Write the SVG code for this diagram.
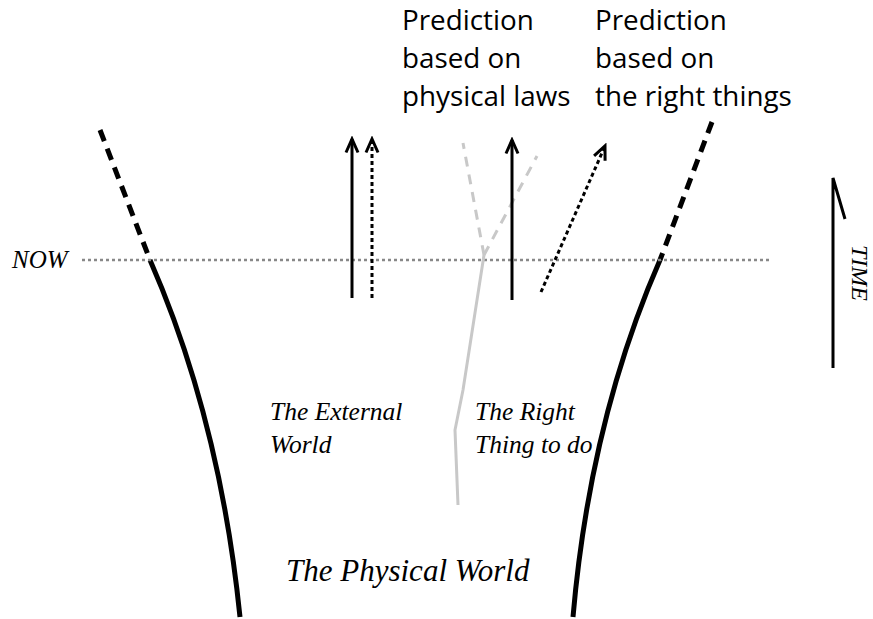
<svg xmlns="http://www.w3.org/2000/svg" width="873" height="619" viewBox="0 0 873 619">
<style>
.sans{font-family:"Open Sans","Liberation Sans",sans-serif;font-size:27.8px;fill:#000}
.ser{font-family:"Liberation Serif","DejaVu Serif",serif;font-style:italic;fill:#000}
.bnd{fill:none;stroke:#000;stroke-width:5}
.arr{fill:none;stroke:#000;stroke-width:3}
</style>
<defs>
<marker id="ah2" viewBox="0 0 18 16" refX="15" refY="8" markerWidth="18" markerHeight="16" markerUnits="userSpaceOnUse" orient="auto">
<path d="M1.5,2 L15,8 L1.5,14" fill="none" stroke="#000" stroke-width="3"/>
</marker>
</defs>
<rect width="873" height="619" fill="#fff"/>
<g id="boundaries">
<path class="bnd" d="M100,130 L150,260" stroke-dasharray="12,8"/>
<path class="bnd" d="M150,260 Q220,420 240,617"/>
<path class="bnd" d="M712,122 L660,260" stroke-dasharray="12,8"/>
<path class="bnd" d="M660,260 Q590,420 573,617"/>
</g>
<g id="now">
<line x1="82" y1="260" x2="770" y2="260" stroke="#888" stroke-width="2.5" stroke-dasharray="3,3"/>
<text class="ser" x="12" y="268" font-size="25">NOW</text>
</g>
<g id="grey-branch">
<path d="M458,505 L455,430 L463,390 L484,255" fill="none" stroke="#c8c8c8" stroke-width="3"/>
<path d="M484,255 L463,143" fill="none" stroke="#c8c8c8" stroke-width="3" stroke-dasharray="10,8"/>
<path d="M484,255 L537,156" fill="none" stroke="#c8c8c8" stroke-width="3" stroke-dasharray="10,8"/>
</g>
<g id="connectors">
<line class="arr" x1="352" y1="298" x2="352" y2="139" marker-end="url(#ah2)"/>
<line class="arr" x1="372" y1="298" x2="372" y2="139" stroke-dasharray="4,3" marker-end="url(#ah2)"/>
<line class="arr" x1="512" y1="300" x2="512" y2="140" marker-end="url(#ah2)"/>
<line class="arr" x1="541" y1="292" x2="605" y2="146" stroke-dasharray="4,3" marker-end="url(#ah2)"/>
</g>
<g id="time">
<path d="M833,368 L833,178 L845,219" fill="none" stroke="#000" stroke-width="3"/>
<text class="ser" font-size="24" transform="translate(852,245) rotate(90)">TIME</text>
</g>
<g id="pred-physical">
<text class="sans" x="402" y="30">Prediction</text>
<text class="sans" x="402" y="68">based on</text>
<text class="sans" x="402" y="106">physical laws</text>
</g>
<g id="pred-right">
<text class="sans" x="595" y="30">Prediction</text>
<text class="sans" x="595" y="68">based on</text>
<text class="sans" x="595" y="106">the right things</text>
</g>
<g id="external">
<text class="ser" x="270" y="420" font-size="25.5">The External</text>
<text class="ser" x="270" y="453" font-size="25.5">World</text>
</g>
<g id="right-thing">
<text class="ser" x="475" y="420" font-size="25.5">The Right</text>
<text class="ser" x="475" y="453" font-size="25.5">Thing to do</text>
</g>
<g id="physical">
<text class="ser" x="286" y="581" font-size="31">The Physical World</text>
</g>
</svg>
